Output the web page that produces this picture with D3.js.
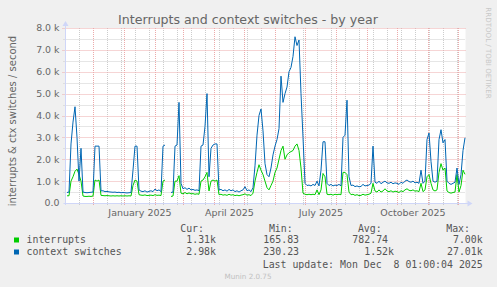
<!DOCTYPE html>
<html>
<head>
<meta charset="utf-8">
<script src="https://cdn.jsdelivr.net/npm/d3@7"></script>
<style>
  body { margin: 0; background: #f0f0f0; }
  svg { display: block; }
  .mono { font-family: "DejaVu Sans Mono", monospace; font-size: 9.9px; fill: #555; }
  .sans { font-family: "DejaVu Sans", sans-serif; }
</style>
</head>
<body>
<svg id="chart"></svg>
<script>
const WIDTH = 497;
const HEIGHT = 287;
const PLOT = { left: 65.5, right: 465.5, top: 28, bottom: 203 };

// time window: last update minus 400 days, one sample every 2 days
const END = Date.UTC(2025, 11, 8, 1, 0, 4);
const START = END - 400 * 864e5;
const STEP_DAYS = 2;
const FIRST_OFFSET_DAYS = 1.5;

const interrupts = [
  330, 330, 1000, 1200, 1450, 1550, 1300, 1000, 320, 300,
  300, 310, 300, 320, 1050, 1000, 1050, 350, 340, 330,
  340, 330, 320, 330, 320, 330, 320, 330, 320, 330,
  320, 330, 320, 800, 1050, 1000, 380, 360, 350, 370,
  340, 350, 360, 340, 380, 350, 360, 340, 1000, 1050,
  null, null, 300, 320, 1000, 1000, 1250, 450, 420, 480,
  420, 460, 420, 430, 400, 420, 400, 1000, 1050, 1200,
  1400, 550, 1000, 1050, 1000, 1050, 380, 400, 360, 380,
  350, 400, 360, 380, 340, 360, 330, 360, 380, 420,
  360, 380, 340, 450, 1000, 1400, 1750, 1500, 1300, 1000,
  700, 600, 800, 1000, 1400, 1600, 2000, 2400, 2600, 2000,
  2200, 2300, 2350, 2400, 2600, 2700, 2400, 1600, 450, 400,
  380, 400, 380, 400, 380, 600, 380, 600, 1350, 1200,
  400, 380, 400, 360, 400, 380, 400, 380, 1400, 1400,
  1300, 500, 380, 400, 350, 380, 340, 350, 400, 360,
  380, 400, 450, 900, 550, 500, 600, 500, 550, 650,
  550, 520, 560, 500, 540, 520, 480, 560, 520, 600,
  650, 580, 560, 600, 540, 560, 520, 900, 520, 600,
  1200, 1300, 900, 600, 550, 600, 1400, 1800, 1500, 1600,
  550, 480, 450, 480, 500, 1300, 500, 800, 1500, 1310
];

const contextSwitches = [
  480, 500, 2700, 3700, 4400, 3000, 1000, 2500, 500, 480,
  470, 480, 490, 500, 2600, 2600, 2600, 550, 560, 520,
  530, 510, 500, 490, 500, 480, 490, 470, 480, 470,
  460, 470, 480, 1500, 2600, 2600, 600, 540, 520, 560,
  500, 530, 560, 520, 640, 560, 600, 520, 2600, 2650,
  null, null, 480, 500, 2600, 2650, 4600, 900, 650, 700,
  620, 680, 600, 620, 580, 600, 560, 2600, 2650, 3500,
  5000, 1200, 2500, 2650, 2700, 2700, 600, 620, 560, 600,
  540, 620, 560, 600, 520, 560, 500, 560, 600, 750,
  560, 600, 520, 700, 1700, 3100, 4000, 4300, 3300, 1800,
  1300, 1200, 1600, 2200, 2600, 2900, 3400, 5800, 4600, 5000,
  5300, 6000, 6200, 6700, 7600, 7200, 7450, 5000, 3000, 900,
  800, 820, 780, 850, 800, 1000, 780, 1500, 2800, 2800,
  900, 800, 850, 780, 820, 800, 850, 780, 3000, 3100,
  4700, 1200, 800, 820, 750, 780, 740, 760, 850, 780,
  800, 820, 900, 2600, 950, 900, 1000, 880, 950, 1000,
  920, 900, 950, 880, 920, 900, 850, 950, 900, 1000,
  1050, 980, 950, 1000, 920, 950, 900, 1500, 900, 1000,
  2900, 3200, 1900, 1000, 950, 1000, 2900, 3350, 2750, 2900,
  1000, 900, 850, 900, 950, 1600, 850, 1300, 2400, 2980
];

const yTicks = [0, 1000, 2000, 3000, 4000, 5000, 6000, 7000, 8000];
const yMinorTicks = [500, 1500, 2500, 3500, 4500, 5500, 6500, 7500];
const monthLabels = ["January 2025", "April 2025", "July 2025", "October 2025"];
const labelMonths = [Date.UTC(2025, 0, 1), Date.UTC(2025, 3, 1), Date.UTC(2025, 6, 1), Date.UTC(2025, 9, 1)];
const firstMinorDate = Date.UTC(2024, 10, 17);

const legendRows = [
  { name: "interrupts", color: "#00cc00", cur: "1.31k", min: "165.83", avg: "782.74", max: "7.00k" },
  { name: "context switches", color: "#0066b3", cur: "2.98k", min: "230.23", avg: "1.52k", max: "27.01k" }
];

const svg = d3.select("#chart").attr("width", WIDTH).attr("height", HEIGHT);
svg.append("rect").attr("width", WIDTH).attr("height", HEIGHT).attr("fill", "#f0f0f0");

const x = d3.scaleUtc().domain([START, END]).range([PLOT.left, PLOT.right]);
const y = d3.scaleLinear().domain([0, 8000]).range([PLOT.bottom, PLOT.top]);
const crisp = (v) => Math.round(v) + 0.5;

svg.append("rect")
  .attr("x", PLOT.left).attr("y", PLOT.top)
  .attr("width", PLOT.right - PLOT.left).attr("height", PLOT.bottom - PLOT.top)
  .attr("fill", "#fff");

// grid
const grid = svg.append("g").attr("fill", "none").attr("stroke-dasharray", "1,1");
const minorDates = d3.range(firstMinorDate, END, 14 * 864e5);
grid.selectAll(".vminor").data(minorDates).join("line")
  .attr("x1", (d) => crisp(x(d))).attr("x2", (d) => crisp(x(d)))
  .attr("y1", PLOT.top).attr("y2", PLOT.bottom + 2)
  .attr("stroke", "#cccccc");
grid.selectAll(".hminor").data(yMinorTicks).join("line")
  .attr("x1", PLOT.left - 2).attr("x2", PLOT.right)
  .attr("y1", (d) => crisp(y(d))).attr("y2", (d) => crisp(y(d)))
  .attr("stroke", "#cccccc");
const months = d3.utcMonth.range(START, END);
grid.selectAll(".vmajor").data(months).join("line")
  .attr("x1", (d) => crisp(x(d))).attr("x2", (d) => crisp(x(d)))
  .attr("y1", PLOT.top).attr("y2", PLOT.bottom + 3)
  .attr("stroke", "#ecaaaa");
grid.selectAll(".hmajor").data(yTicks.slice(1)).join("line")
  .attr("x1", PLOT.left - 3).attr("x2", PLOT.right)
  .attr("y1", (d) => crisp(y(d))).attr("y2", (d) => crisp(y(d)))
  .attr("stroke", "#ecaaaa");

// y labels
svg.append("g").attr("class", "sans")
  .selectAll("text").data(yTicks).join("text")
  .attr("x", 59.5).attr("y", (d) => y(d) + 3.4)
  .attr("text-anchor", "end").attr("font-size", 9.4).attr("fill", "#666")
  .text((d) => (d === 0 ? "0.0" : d3.format(".1f")(d / 1000) + " k"));

// x labels, centred in their month
svg.append("g").attr("class", "sans")
  .selectAll("text").data(labelMonths).join("text")
  .attr("x", (d) => x((d + d3.utcMonth.offset(new Date(d), 1).getTime()) / 2))
  .attr("y", 216)
  .attr("text-anchor", "middle").attr("font-size", 9.5).attr("fill", "#666")
  .text((d, i) => monthLabels[i]);

// data lines
const sampleDate = (i) => START + (FIRST_OFFSET_DAYS + i * STEP_DAYS) * 864e5;
const line = d3.line()
  .defined((d) => d != null)
  .x((d, i) => x(sampleDate(i)))
  .y((d) => y(d));

svg.append("path").datum(interrupts)
  .attr("fill", "none").attr("stroke", "#00cc00").attr("stroke-width", 1)
  .attr("d", line);
svg.append("path").datum(contextSwitches)
  .attr("fill", "none").attr("stroke", "#0066b3").attr("stroke-width", 1)
  .attr("d", line);

// axes with arrows
const axisColor = "#cfd6f8";
svg.append("line").attr("x1", PLOT.left).attr("x2", PLOT.left)
  .attr("y1", PLOT.bottom + 2).attr("y2", PLOT.top - 3).attr("stroke", axisColor);
svg.append("line").attr("x1", PLOT.left - 2).attr("x2", PLOT.right + 3)
  .attr("y1", PLOT.bottom + 0.5).attr("y2", PLOT.bottom + 0.5).attr("stroke", axisColor);
svg.append("path")
  .attr("d", `M${PLOT.left - 3},${PLOT.top - 2} L${PLOT.left + 3},${PLOT.top - 2} L${PLOT.left},${PLOT.top - 7} Z`)
  .attr("fill", axisColor);
svg.append("path")
  .attr("d", `M${PLOT.right + 2},${PLOT.bottom - 2.5} L${PLOT.right + 2},${PLOT.bottom + 3.5} L${PLOT.right + 7},${PLOT.bottom + 0.5} Z`)
  .attr("fill", axisColor);

// titles
svg.append("text").attr("class", "sans")
  .attr("x", 248).attr("y", 23.5).attr("text-anchor", "middle")
  .attr("font-size", 12.6).attr("fill", "#666")
  .text("Interrupts and context switches - by year");

svg.append("text").attr("class", "sans")
  .attr("transform", "translate(16,121) rotate(-90)")
  .attr("text-anchor", "middle").attr("font-size", 10).attr("fill", "#666")
  .text("interrupts & ctx switches / second");

svg.append("text").attr("class", "sans")
  .attr("transform", "translate(486,53) rotate(90)")
  .attr("text-anchor", "middle").attr("font-size", 7.1).attr("fill", "#c8c8c8")
  .text("RRDTOOL / TOBI OETIKER");

// legend: values share a suffix column, plain numbers end one character early
const legend = svg.append("g");
const headers = [["Cur:", 204], ["Min:", 292.7], ["Avg:", 381.7], ["Max:", 470]];
legend.selectAll(".hdr").data(headers).join("text")
  .attr("class", "mono").attr("x", (d) => d[1]).attr("y", 231.5)
  .attr("text-anchor", "end").text((d) => d[0]);

const suffixEnds = { cur: 216, min: 305, avg: 394, max: 482.7 };
const CHAR_W = 5.96;
legendRows.forEach((row, i) => {
  const base = 242.5 + i * 12;
  legend.append("rect").attr("x", 14).attr("y", base - 5).attr("width", 5).attr("height", 5)
    .attr("fill", row.color);
  legend.append("text").attr("class", "mono").attr("x", 26.5).attr("y", base).text(row.name);
  Object.keys(suffixEnds).forEach((k) => {
    const hasSuffix = /k$/.test(row[k]);
    legend.append("text").attr("class", "mono")
      .attr("x", suffixEnds[k] - (hasSuffix ? 0 : CHAR_W))
      .attr("y", base).attr("text-anchor", "end").text(row[k]);
  });
});

legend.append("text").attr("class", "mono")
  .attr("x", 482.7).attr("y", 267.5).attr("text-anchor", "end")
  .style("white-space", "pre")
  .text("Last update: Mon Dec  8 01:00:04 2025");

svg.append("text").attr("class", "sans")
  .attr("x", 248).attr("y", 279).attr("text-anchor", "middle")
  .attr("font-size", 7.2).attr("fill", "#c0c0c0")
  .text("Munin 2.0.75");
</script>
</body>
</html>
